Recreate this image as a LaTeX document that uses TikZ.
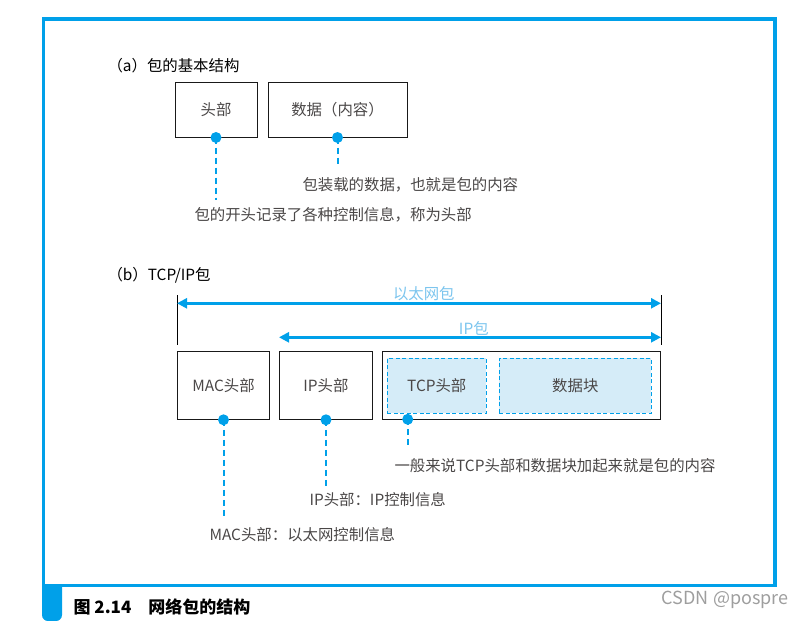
\documentclass[tikz,border=0pt]{standalone}
\usepackage{fontspec}
\setmainfont{Noto Sans CJK SC}
\usepackage{xcolor}
\usepackage{tikz}
\usetikzlibrary{positioning,arrows.meta}
\definecolor{frameblue}{HTML}{00A0E9}
\definecolor{lightfill}{HTML}{D5ECF8}
\definecolor{labelblue}{HTML}{7CC5EE}
\definecolor{textgray}{HTML}{4A4747}

\begin{document}
\begin{tikzpicture}[x=1pt, y=-1pt, >={Triangle[length=10pt, width=10pt]}, node distance=9pt,
  every node/.style={font=\fontsize{15.4}{18}\selectfont, text=textgray},
  box/.style={draw=black!90, line width=1pt, minimum height=68pt, inner sep=0pt},
  inbox/.style={draw=frameblue, line width=1pt, dash pattern=on 4pt off 2.5pt, fill=lightfill, minimum height=55pt, inner sep=0pt},
  dot/.style={circle, fill=frameblue, minimum size=11pt, inner sep=0pt},
  leader/.style={draw=frameblue, line width=2pt, dash pattern=on 6pt off 4pt},
  span/.style={<->, draw=frameblue, line width=2.4pt},
  tick/.style={draw=black, line width=0.8pt},
  spanlabel/.style={text=labelblue, inner sep=1pt}]
\useasboundingbox (0,0) rectangle (806,621);

% frame and caption
\draw[frameblue, line width=3.5pt] (43.5,19) rectangle (775,585.5);
\fill[frameblue] (42,585) -- (62,585) [rounded corners=6pt] -- (62,621) -- (42,621) [sharp corners] -- cycle;
\node[anchor=west, text=black, font=\bfseries\fontsize{17}{20}\selectfont] (caption) at (70,607) {图 2.14\quad 网络包的结构};
\node[anchor=east, text=black!38, font=\fontsize{18}{21}\selectfont] (mark) at (792,600) {CSDN @pospre};

% (a)
\node[anchor=west, text=black] (titlea) at (104,66) {（a）包的基本结构};
\node[box, minimum width=82pt, minimum height=55pt] (heada) at (216,109.5) {头部};
\node[box, minimum width=139pt, minimum height=55pt, right=10pt of heada] (dataa) {数据（内容）};
\node[dot] (dothead) at (heada.south) {};
\node[dot] (dotdata) at (dataa.south) {};
\node[anchor=west] (notedata) at (299,185) {包装载的数据，也就是包的内容};
\node[anchor=west] (notehead) at (191,215) {包的开头记录了各种控制信息，称为头部};
\coordinate (endhead) at (dothead |- 0,200);
\coordinate (enddata) at (dotdata |- 0,167);
\draw[leader] (dothead.center) -- (endhead);
\draw[leader] (dotdata.center) -- (enddata);

% (b)
\node[anchor=west, text=black] (titleb) at (104,275) {（b）TCP/IP包};
\node[box, minimum width=92pt] (mac) at (223.5,385.3) {MAC头部};
\node[box, minimum width=93pt, right=of mac] (iph) {IP头部};
\node[box, minimum width=278pt, right=of iph] (pkt) {};
\node[inbox, minimum width=99pt] (tcph) at (436.8,385.8) {TCP头部};
\node[inbox, minimum width=152pt, right=12pt of tcph] (blk) {数据块};

\coordinate (ltop) at (mac.west |- 0,295);
\coordinate (lbot) at (mac.west |- 0,345);
\coordinate (rtop) at (pkt.east |- 0,295);
\coordinate (rbot) at (pkt.east |- 0,345);
\draw[tick] (ltop) -- (lbot);
\draw[tick] (rtop) -- (rbot);
\coordinate (ethl) at (mac.west |- 0,303.3);
\coordinate (ethr) at (pkt.east |- 0,303.3);
\coordinate (ipl) at (iph.west |- 0,337.3);
\coordinate (ipr) at (pkt.east |- 0,337.3);
\draw[span] (ethl) -- node[pos=0.51, above, spanlabel] {以太网包} (ethr);
\draw[span] (ipl) -- node[pos=0.51, above, spanlabel] {IP包} (ipr);

\node[dot] (dotmac) at (mac.south) {};
\node[dot] (dotip) at (iph.south) {};
\node[dot] (dottcp) at (407.7,419.3) {};
\node[anchor=west] (notetcp) at (391,466) {一般来说TCP头部和数据块加起来就是包的内容};
\node[anchor=west] (noteip) at (306,500) {IP头部：IP控制信息};
\node[anchor=west] (notemac) at (206,535) {MAC头部：以太网控制信息};
\coordinate (endmac) at (dotmac |- 0,518);
\coordinate (endip) at (dotip |- 0,488);
\coordinate (endtcp) at (dottcp |- 0,448);
\draw[leader] (dotmac.center) -- (endmac);
\draw[leader] (dotip.center) -- (endip);
\draw[leader] (dottcp.center) -- (endtcp);
\end{tikzpicture}
\end{document}
